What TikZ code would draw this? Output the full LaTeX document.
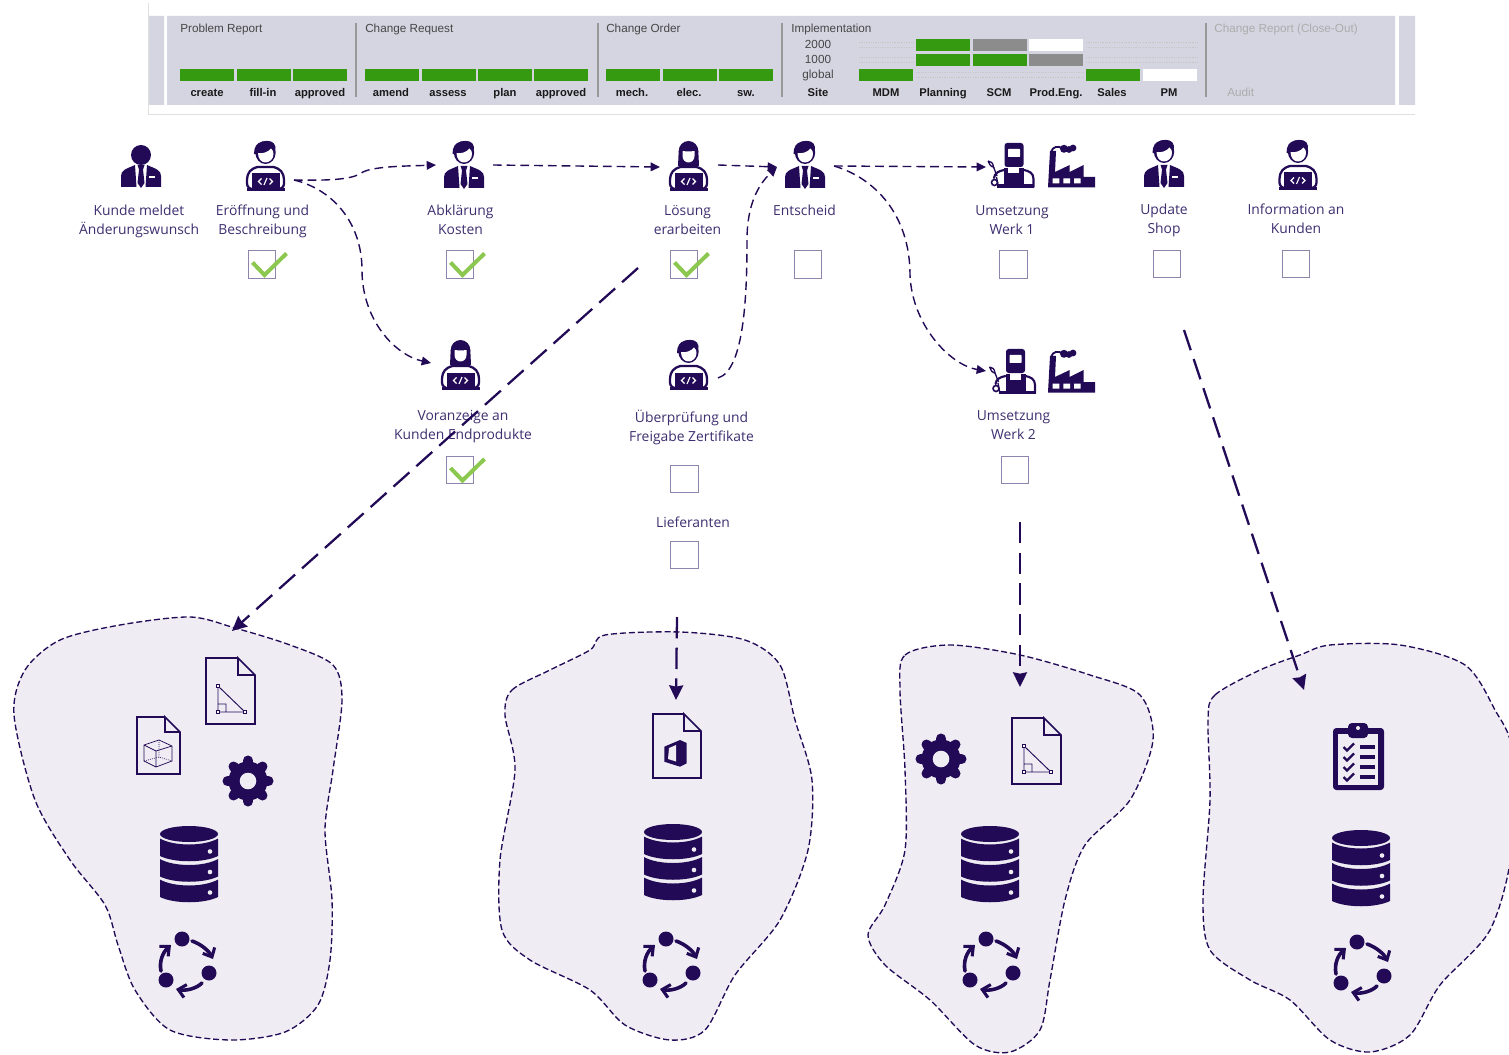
\documentclass[tikz,border=0pt]{standalone}
\usepackage{fontspec}
\setmainfont{Open Sans}
\newfontfamily\hdfont{Liberation Sans}
\usetikzlibrary{arrows.meta}
\definecolor{ic}{HTML}{220A57}
\definecolor{txt}{HTML}{3F2F70}
\definecolor{band}{HTML}{D5D4E1}
\definecolor{grn}{HTML}{359A10}
\definecolor{gry}{HTML}{8C8C8C}
\definecolor{blobc}{HTML}{EFEDF3}
\definecolor{boxc}{HTML}{8E84AC}
\definecolor{chk}{HTML}{8CC850}
\newcommand{\facehair}{%
  \fill[ic] (0,11.5) ellipse (10.2 and 11.5);
  \fill[ic] (-11.5,13) .. controls (-11.5,6) and (-9,2) .. (-3,0.5) .. controls (3,-1) and (9,0) .. (10,6) -- (9,14) -- cycle;
  \fill[white] (-7.5,12) .. controls (-3,13) and (3,11) .. (5.5,7.5) .. controls (7.5,9) and (8,11) .. (8,13)
     .. controls (8,18) and (4,21.5) .. (0,21.5) .. controls (-4,21.5) and (-7.5,18) .. (-7.5,12) -- cycle;
}
\newcommand{\suitbody}[1]{%
  \begin{scope}[yshift=#1*-0.75pt]
  \fill[ic] (-20,47) -- (-20,36) .. controls (-20,30) and (-15,29) .. (-6,25) -- (-4.5,47) -- cycle;
  \fill[ic] (20,47) -- (20,36) .. controls (20,30) and (15,29) .. (6,25) -- (4.5,47) -- cycle;
  \fill[ic] (-3.5,25) -- (3.5,25) -- (2,29.5) -- (3.5,43) -- (0,48) -- (-3.5,43) -- (-2,29.5) -- cycle;
  \draw[white,line width=0.9pt] (8,37) -- (14,37);
  \end{scope}
}
\newcommand{\coderbody}{%
  \draw[ic,line width=1.7pt,line cap=round] (-14,48) .. controls (-18,47) and (-19,44) .. (-18.5,39)
     .. controls (-18,31) and (-15,28) .. (-8,26) -- (8,26) .. controls (15,28) and (18,31) .. (18.5,39)
     .. controls (19,44) and (18,47) .. (14,48);
  \fill[ic] (-14,32.5) -- (14,32.5) -- (14,47) -- (-14,47) -- cycle;
  \fill[ic] (-19,47) -- (19,47) -- (19,50) -- (-19,50) -- cycle;
  \draw[white,line width=0.85pt] (-4,37.5) -- (-7,40.5) -- (-4,43.5) (4,37.5) -- (7,40.5) -- (4,43.5) (1.5,37) -- (-1.5,44);
}
\newcommand{\docbody}[3]{%
  \fill[blobc] (0,0) -- (#1-#3,0) -- (#1,#3) -- (#1,#2) -- (0,#2) -- cycle;
  \draw[ic,line width=1.2pt,line join=miter] (#1-#3,0) -- (0,0) -- (0,#2) -- (#1,#2) -- (#1,#3) -- (#1-#3,0) -- (#1-#3,#3) -- (#1,#3);
}
\newcommand{\trianglemark}{%
  \draw[ic,line width=0.7pt] (12,28) -- (12,54) -- (39,54) -- cycle (12,46) -- (20,46) -- (20,54);
  \foreach \p in {(12,28),(12,54),(39,54)} \draw[ic,line width=0.6pt,fill=white] \p ++(-1.8,-1.8) rectangle ++(3.6,3.6);
}
\tikzset{
  x=0.75pt,y=-0.75pt,
  lbl/.style={text=txt,align=center,inner sep=0pt,font=\fontsize{10.4}{14.25}\selectfont},
  hd/.style={anchor=base west,inner sep=0pt,text=black!72,font=\hdfont\fontsize{8.8}{10}\selectfont},
  hdg/.style={anchor=base west,inner sep=0pt,text=black!32,font=\hdfont\fontsize{8.8}{10}\selectfont},
  sm/.style={anchor=base,inner sep=0pt,text=black!90,font=\hdfont\bfseries\fontsize{8.4}{10}\selectfont},
  lv/.style={anchor=base,inner sep=0pt,text=black!72,font=\hdfont\fontsize{8.8}{10}\selectfont},
  cbox/.style={draw=boxc,line width=0.9pt,fill=white,minimum size=20.5pt,inner sep=0pt},
  tick/.style={chk,line width=3pt},
  divider/.style={black!40,line width=0.8pt},
  blob/.style={fill=blobc,draw=ic,line width=1pt,dash pattern=on 4.5pt off 2.2pt},
  flow/.style={ic,line width=1.05pt,dash pattern=on 6.5pt off 3.8pt,-{Triangle[length=7pt,width=6.5pt]}},
  longflow/.style={ic,line width=1.7pt,dash pattern=on 16pt off 7pt,-{Stealth[inset=1pt,length=11pt,width=10.5pt]}},
  pics/suitman/.style={code={\facehair\suitbody{0}}},
  pics/plainman/.style={code={\fill[ic] (0,10) circle (10);\suitbody{-5}}},
  pics/coderm/.style={code={\facehair\coderbody}},
  pics/coderf/.style={code={%
    \fill[ic] (0,10) ellipse (9.8 and 10);
    \fill[ic] (-9.8,10) -- (-10.5,25) -- (10.5,25) -- (9.8,10) -- cycle;
    \fill[white] (-6,10) .. controls (-3,10.5) and (3,10.5) .. (6,10) -- (6,15)
       .. controls (6,19) and (3,21.5) .. (0,21.5) .. controls (-3,21.5) and (-6,19) .. (-6,15) -- cycle;
    \coderbody}},
  pics/welder/.style={code={%
    \fill[ic,rounded corners=2pt] (-9.5,0) rectangle (9.5,24);
    \fill[white,rounded corners=0.5pt] (-6,6) rectangle (6,14);
    \draw[ic,line width=1.6pt,line cap=round] (-10,27) .. controls (-15,28) and (-19.5,30) .. (-20,35);
    \draw[ic,line width=1.6pt,line cap=round] (10,27) .. controls (15,28) and (19.5,30) .. (19.5,36) -- (19.5,44);
    \fill[ic] (-10,25) rectangle (10,44.5);
    \fill[white] (-6,25) rectangle (5,30.5);
    \fill[ic] (-17,41.5) rectangle (20.3,45);
    \draw[ic,line width=1pt] (-26,18) .. controls (-23,18) and (-21,20) .. (-20.5,24) .. controls (-23,24) and (-25,21) .. (-26,18);
    \draw[ic,line width=1pt] (-20.5,24) -- (-17,33);
    \draw[ic,line width=1.2pt] (-19.5,39.5) circle (3);
    \draw[ic,line width=1pt] (-17.5,34) -- (-16,42);
  }},
  pics/factory/.style={code={%
    \fill[ic] (0,42.5) -- (2,6) -- (8,6) -- (7,27) -- (21.7,20) -- (21.7,27) -- (35.7,20) -- (35.7,32) -- (47,32) -- (47,42.5) -- cycle;
    \fill[white] (4.7,33.5) rectangle (11.3,38.5) (15.3,33.5) rectangle (22,38.5) (26,33.5) rectangle (32.7,38.5);
    \draw[ic,line width=1.4pt] (3,7) .. controls (5,1) and (10,1) .. (14,3);
    \fill[ic] (16,3.8) circle (4) (21,4.5) circle (3.4) (25,3) circle (3.4);
  }},
  pics/gear/.style={code={%
    \fill[ic] (0,0) circle (19.5);
    \foreach \a in {0,45,...,315} \draw[ic,line width=7.5pt,line cap=round] (\a:17) -- (\a:20.5);
    \fill[blobc] (0,0) circle (8.3);
  }},
  pics/dbase/.style={code={%
    \fill[ic] (0,8) ellipse (29 and 8);
    \foreach \t in {12.5,33,53.5} {
      \fill[ic] (-29,\t) .. controls (-15,\t+8) and (15,\t+8) .. (29,\t) -- (29,\t+17.5) .. controls (15,\t+24.5) and (-15,\t+24.5) .. (-29,\t+17.5) -- cycle;
      \fill[blobc] (21,\t+13) circle (2.3);
    }
  }},
  pics/cyc/.style={code={%
    \fill[ic] (-6,-26) circle (7.5) (21,8) circle (7.5) (-22,15) circle (7.5);
    \begin{scope}[line width=2.7pt,line cap=round,ic,-{Straight Barb[length=5.5pt,width=10pt,line width=2.3pt]}]
      \draw (4,-24) .. controls (13,-21) and (21,-14) .. (25,-6);
      \draw (14,18) .. controls (8,24) and (-3,26) .. (-12,24);
      \draw (-27,6) .. controls (-29,-4) and (-25,-13) .. (-17,-20);
    \end{scope}
  }},
  pics/doctri/.style={code={\docbody{49}{66}{17}\trianglemark}},
  pics/doccube/.style={code={%
    \docbody{43}{57}{15}
    \draw[ic,line width=0.55pt] (7,28) -- (22,23) -- (35,29) -- (35,44) -- (19,50) -- (7,44) -- cycle (7,28) -- (19,34) -- (35,29) (19,34) -- (19,50);
    \draw[ic,line width=0.55pt,densely dotted] (22,23) -- (22,40) (7,44) -- (22,40) -- (35,44);
  }},
  pics/docoffice/.style={code={%
    \docbody{48}{64}{17}
    \fill[ic] (11.3,32.7) -- (27,26) -- (33.7,29) -- (33.7,49.3) -- (27,52.7) -- (11.3,47.7) -- cycle;
    \fill[blobc] (16,34) -- (23,31) -- (23,47.5) -- (15,45) -- cycle;
  }},
  pics/clipb/.style={code={%
    \fill[ic,rounded corners=2.5pt] (0,5) rectangle (51,67);
    \fill[blobc] (5,11) rectangle (45,62);
    \fill[ic,rounded corners=3pt] (15,0) rectangle (35,15);
    \fill[blobc] (25,5) circle (2);
    \foreach \y in {24,34,44,54} {
      \draw[ic,line width=1.8pt] (10.5,\y) -- (14,\y+3.5) -- (21,\y-3.5);
      \fill[ic] (27,\y-2) rectangle (42,\y+2);
    }
  }}
}
\begin{document}
\begin{tikzpicture}
\useasboundingbox (0,0) rectangle (1509,1055);
\clip (0,0) rectangle (1509,1055);
\fill[white] (0,0) rectangle (1509,1055);
% header band
\draw[black!12,line width=0.7pt] (148.5,3) -- (148.5,114) -- (1415,114);
\fill[band] (149,16) rectangle (164,105) (167,16) rectangle (1395,105) (1399,16) rectangle (1415,105);
\foreach \x in {356,598,782,1206} \draw[divider] (\x,23) -- (\x,97);
\foreach \x in {180,236.5,293,365,421.5,478,534,606,662.5,719} \fill[grn] (\x,69) rectangle +(54,12);
\foreach \x/\y in {916/39,916/54,973/54,859/69,1086/69} \fill[grn] (\x,\y) rectangle +(54,12);
\foreach \x/\y in {973/39,1029/54} \fill[gry] (\x,\y) rectangle +(54,12);
\foreach \x/\y in {1029/39,1143/69} \fill[white] (\x,\y) rectangle +(54,12);
\foreach \x/\y in {859/39,859/54,1086/39,1143/39,1086/54,1143/54,916/69,973/69,1029/69}
  \draw[black!22,line width=0.3pt,densely dotted] (\x,\y+3) -- +(54,0) (\x,\y+8) -- +(54,0);
\node[hd] (hA) at (180,33) {Problem Report};
\node[hd] (hB) at (365,33) {Change Request};
\node[hd] (hC) at (606,33) {Change Order};
\node[hd] (hD) at (791,33) {Implementation};
\node[hdg] (hE) at (1214,33) {Change Report (Close-Out)};
\node[hdg] (hF) at (1227,97) {Audit};
\node[lv] (v2) at (818,49) {2000};
\node[lv] (v1) at (818,64) {1000};
\node[lv] (v0) at (818,79) {global};
\foreach \n/\x/\t in {a/207/create,b/263/fill-in,c/320/approved,d/391/amend,e/448/assess,f/505/plan,g/561/approved,h/632/mech.,i/689/elec.,j/746/sw.,k/818/Site,l/886/MDM,m/943/Planning,n/999/SCM,o/1056/Prod.Eng.,p/1112/Sales,q/1169/PM}
  \node[sm] (s\n) at (\x,97) {\t};
% blobs
\draw[blob] plot[smooth cycle] coordinates {(14,715) (25,670) (60,640) (120,625) (190,617) (235,628) (290,645) (333,665) (342,700) (333,770) (325,830) (332,900) (330,960) (318,1005) (285,1032) (230,1040) (170,1030) (135,990) (118,945) (105,905) (70,860) (35,800)};
\draw[blob] plot[smooth cycle] coordinates {(505,715) (512,690) (550,670) (590,650) (605,635) (680,632) (745,640) (780,665) (795,720) (812,780) (808,850) (780,920) (735,975) (705,1030) (670,1040) (625,1025) (590,990) (530,960) (502,930) (500,860) (515,770)};
\draw[blob] plot[smooth cycle] coordinates {(900,690) (905,655) (950,645) (1020,655) (1090,675) (1140,695) (1153,740) (1130,800) (1085,845) (1065,900) (1050,980) (1040,1030) (1010,1052) (975,1045) (930,1000) (885,965) (868,935) (885,905) (905,850) (905,770)};
\draw[blob] plot[smooth cycle] coordinates {(1208,720) (1215,695) (1260,670) (1300,655) (1330,645) (1400,645) (1465,665) (1495,710) (1512,750) (1512,850) (1490,930) (1440,985) (1410,1035) (1370,1052) (1330,1040) (1290,1000) (1250,980) (1210,950) (1203,900) (1210,800)};
% person icons
\pic (p1) at (141,145) {plainman};
\pic (p2) at (265.5,141) {coderm};
\pic (p3) at (464,141) {suitman};
\pic (p4) at (688.5,141) {coderf};
\pic (p5) at (805,141) {suitman};
\pic (p6) at (1014,143) {welder};
\pic (p7) at (1048,145) {factory};
\pic (p8) at (1164,140) {suitman};
\pic (p9) at (1298,140) {coderm};
\pic (p10) at (460.5,340) {coderf};
\pic (p11) at (688.5,340) {coderm};
\pic (p12) at (1015.5,349) {welder};
\pic (p13) at (1048,350) {factory};
% labels
\node[lbl] (t1) at (139,221) {Kunde meldet\\Änderungswunsch};
\node[lbl] (t2) at (262.5,221) {Eröffnung und\\Beschreibung};
\node[lbl] (t3) at (460.5,219.5) {Abklärung\\Kosten};
\node[lbl] (t4) at (687.5,220.5) {Lösung\\erarbeiten};
\node[lbl] (t5) at (804.5,210) {Entscheid};
\node[lbl] (t6) at (1012,220.5) {Umsetzung\\Werk 1};
\node[lbl] (t7) at (1164,220) {Update\\Shop};
\node[lbl] (t8) at (1296,219) {Information an\\Kunden};
\node[lbl] (t9) at (463,427) {Voranzeige an\\Kunden Endprodukte};
\node[lbl] (t10) at (691.5,427) {Überprüfung und\\Freigabe Zertifikate};
\node[lbl] (t11) at (693,522) {Lieferanten};
\node[lbl] (t12) at (1013.5,425) {Umsetzung\\Werk 2};
% check boxes
\node[cbox] (c1) at (262,264.5) {};
\node[cbox] (c2) at (460,264.5) {};
\node[cbox] (c3) at (684,264.5) {};
\node[cbox] (c4) at (808,264.5) {};
\node[cbox] (c5) at (1013.5,264.5) {};
\node[cbox] (c6) at (1167,264) {};
\node[cbox] (c7) at (1296,264) {};
\node[cbox] (c8) at (460,470) {};
\node[cbox] (c9) at (684.5,479) {};
\node[cbox] (c10) at (684.5,555) {};
\node[cbox] (c11) at (1015,470) {};
\foreach \c in {c1,c2,c3,c8}
  \draw[tick] (\c) ++(-9.5,-2) -- ++(12,12.5) -- ++(22,-21.5);
% blob contents
\pic (d1) at (206,658) {doctri};
\pic (d2) at (137,717) {doccube};
\pic (g1) at (248,781) {gear};
\pic (b1) at (189,826) {dbase};
\pic (y1) at (188,965) {cyc};
\pic (d3) at (653,714) {docoffice};
\pic (b2) at (673,824) {dbase};
\pic (y2) at (672,965) {cyc};
\pic (g2) at (941,759) {gear};
\pic (d4) at (1012,718) {doctri};
\pic (b3) at (990,826) {dbase};
\pic (y3) at (992,965) {cyc};
\pic (l1) at (1333,723) {clipb};
\pic (b4) at (1361,830) {dbase};
\pic (y4) at (1363,968) {cyc};
% connector ends
\coordinate (a1) at (294,180);
\coordinate (a2) at (436,165);
\coordinate (a3) at (431,363);
\coordinate (a4) at (493,165);
\coordinate (a5) at (660,167);
\coordinate (a6) at (718,165);
\coordinate (a7) at (777,167);
\coordinate (a8) at (718,378);
\coordinate (a9) at (834,166);
\coordinate (a10) at (986,167);
\coordinate (a11) at (986,371);
\coordinate (e1) at (638,268);
\coordinate (e2) at (232,631);
\coordinate (e3) at (677,617);
\coordinate (e4) at (676,700);
\coordinate (e5) at (1020,522);
\coordinate (e6) at (1020,687);
\coordinate (e7) at (1184,330);
\coordinate (e8) at (1304,690);
\draw[flow] (a1) .. controls (340,181) and (355,178) .. (363,172) .. controls (375,166) and (410,166) .. (a2);
\draw[flow] (a1) .. controls (335,190) and (362,225) .. (362,270) .. controls (362,320) and (395,355) .. (a3);
\draw[flow] (a4) -- (a5);
\draw[flow] (a6) -- (a7);
\draw[flow] (a8) .. controls (745,370) and (747,290) .. (747,240) .. controls (747,205) and (758,185) .. (a7);
\draw[flow] (a9) -- (a10);
\draw[flow] (a9) .. controls (875,178) and (910,215) .. (910,275) .. controls (912,325) and (950,365) .. (a11);
\draw[longflow] (e1) -- (e2);
\draw[longflow] (e3) -- (e4);
\draw[longflow] (e5) -- (e6);
\draw[longflow] (e7) -- (e8);
\end{tikzpicture}
\end{document}
